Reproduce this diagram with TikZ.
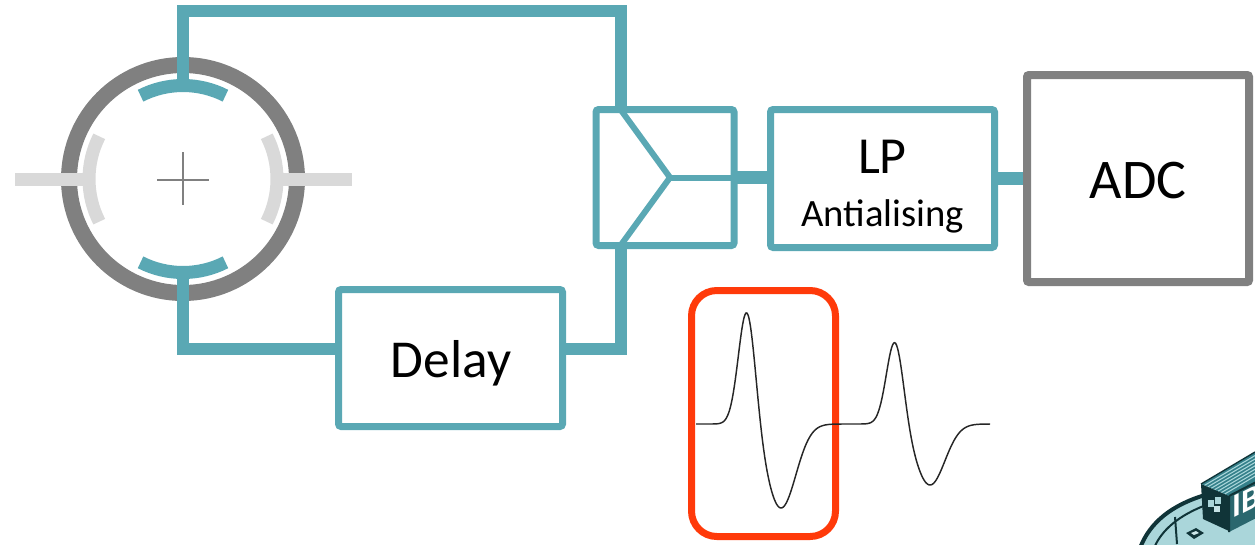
\documentclass[tikz,border=0pt]{standalone}
\usepackage{fontspec}
\setmainfont{Carlito}
\usetikzlibrary{calc}
\definecolor{sigteal}{RGB}{90,168,180}
\definecolor{ringgray}{RGB}{128,128,128}
\definecolor{padgray}{RGB}{217,217,217}
\definecolor{winred}{RGB}{255,58,10}
\definecolor{shipdark}{RGB}{16,52,56}
\definecolor{shipteal}{RGB}{52,128,138}
\definecolor{shipdeck}{RGB}{170,214,218}
\pgfdeclarelayer{background}
\pgfsetlayers{background,main}
\tikzset{
  wire/.style={draw=sigteal, line width=9pt, line join=miter},
  inner wire/.style={draw=sigteal, line width=4.5pt, line join=miter},
  blk/.style={draw=sigteal, line width=5.25pt, fill=white, rectangle,
    inner sep=0pt, outer sep=0pt, rounded corners=2pt},
  adcblk/.style={draw=ringgray, line width=6pt, fill=white, rectangle,
    inner sep=0pt, outer sep=0pt, rounded corners=1.5pt},
  electrode/.style={draw=sigteal, line width=9.75pt},
  pad/.style={draw=padgray, line width=9.75pt},
  lbl/.style={anchor=base, inner sep=0pt, text=black},
}
\begin{document}
\begin{tikzpicture}[x=0.75pt,y=-0.75pt,
  declare function={g(\t,\c,\s)=exp(-min(((\t-\c)/\s)^2,9));}]
\useasboundingbox (0,0) rectangle (1255,544);

% ---- processing chain blocks
\node[blk, minimum width=103.5pt, minimum height=102pt] (comb) at (665,177.5) {};
\node[blk, minimum width=168pt, minimum height=103.5pt] (lp) at (882.5,178.5) {};
\node[blk, minimum width=168pt, minimum height=102.75pt] (delay) at (450.5,358) {};
\node[adcblk, minimum width=166.5pt, minimum height=155.25pt] (adc) at (1138,178.5) {};

\coordinate (cin1) at ([xshift=18.4pt]comb.north west);
\coordinate (cin2) at ([xshift=18.4pt]comb.south west);
\coordinate (csum) at (670,177.5);
\coordinate (dl) at ([yshift=6.75pt]delay.west);
\coordinate (dr) at ([yshift=6.75pt]delay.east);

\begin{pgfonlayer}{background}
% ---- beam pickup: vacuum chamber ring with four electrodes
\node[draw=ringgray, line width=12pt, circle, minimum size=171pt,
  inner sep=0pt, outer sep=0pt] (pu) at (183,179) {};
\coordinate (etop) at (183,85.5);
\coordinate (ebot) at (183,272.5);
\coordinate (elft) at (89,179);
\coordinate (erht) at (277,179);

% horizontal electrodes (unused)
\draw[pad] (15,179) -- (elft);
\draw[pad] (erht) -- (352,179);
\draw[pad] ([shift={(153:94)}]pu.center) arc[start angle=153, end angle=207, radius=94];
\draw[pad] ([shift={(-27:94)}]pu.center) arc[start angle=-27, end angle=27, radius=94];

% centre cross
\draw[ringgray, line width=1.5pt] (157,179.5) -- (209,179.5) (183,152) -- (183,205);

% signal wires
\draw[wire] (etop) -- (183,11) -| (cin1);
\draw[wire] (ebot) |- (dl);
\draw[wire] (dr) -| (cin2);
\draw[wire, line width=9.75pt] (comb.east) -- (comb.east -| lp.west);
\draw[wire, line width=9.75pt] (lp.east |- adc.west) -- (adc.west);
\end{pgfonlayer}

% vertical electrodes (signal)
\draw[electrode] ([shift={(243:93.5)}]pu.center) arc[start angle=243, end angle=297, radius=93.5];
\draw[electrode] ([shift={(63:93.5)}]pu.center) arc[start angle=63, end angle=117, radius=93.5];

% hybrid combiner symbol
\draw[inner wire] (cin1) -- (csum) -- (cin2);
\draw[inner wire] (csum) -- (comb.east);

% labels
\node[lbl, font=\fontsize{39pt}{39pt}\selectfont] (lptxt) at (882.5,173) {LP};
\node[lbl, font=\fontsize{29pt}{29pt}\selectfont] (aatxt) at (882.5,226) {Antialising};
\node[lbl, font=\fontsize{42pt}{42pt}\selectfont] (adctxt) at (1138,198) {ADC};
\node[lbl, font=\fontsize{40pt}{40pt}\selectfont] (dltxt) at (451,377) {Delay};

% ---- doublet signal with sampling window
\node[draw=winred, line width=5.25pt, rounded corners=19pt, inner sep=0pt,
  minimum width=108pt, minimum height=184.5pt] (win) at (763.5,413.5) {};
\draw[black!85, line width=1.1pt, smooth]
  plot[domain=696:990, samples=300, variable=\x]
  (\x, {424 - 117*g(\x,747,12) + 84*g(\x,781,21) - 85*g(\x,895,12) + 61*g(\x,930,21)});

% ---- ship emblem in the corner
\begin{scope}
\clip (1128,440) rectangle (1255,544);
\fill[shipdeck] (1140,548) .. controls (1150,522) and (1172,505) .. (1205,495)
  -- (1262,468) -- (1262,548) -- cycle;
\draw[shipdark, line width=3pt] (1140,548) .. controls (1150,522) and (1172,505) .. (1205,495);
\draw[shipdark, line width=1.5pt] (1154,548) .. controls (1162,529) and (1180,515) .. (1206,505);
\draw[shipdark, line width=1.5pt] (1175,517) -- (1177,544);
\fill[shipdark] (1186,533) -- (1196,528) -- (1204,533) -- (1194,539) -- cycle;
\fill[shipdeck!60] (1191,533) -- (1196,531) -- (1199,533) -- (1194,535) -- cycle;
% container: top face
\fill[shipteal] (1201,484) -- (1255,452) -- (1262,452) -- (1262,481) -- (1229,496) -- cycle;
\foreach \k in {0.12,0.24,...,0.96}
  \draw[shipdeck, line width=0.8pt] ($(1201,484)!\k!(1229,496)$) -- ++(61,-36);
\draw[shipdark, line width=1pt] (1201,484) -- (1255,452);
% container: side face
\fill[shipdark] (1201,484) -- (1229,496) -- (1229,531) -- (1203,519) -- cycle;
\fill[shipdeck] (1208,500) rectangle (1214,507);
\fill[shipdeck] (1215,497) rectangle (1221,504);
\fill[shipdeck!70] (1214,506) rectangle (1220,512);
% container: end face
\fill[shipteal!80!black] (1229,496) -- (1262,479) -- (1262,515) -- (1229,532) -- cycle;
\draw[shipdark, line width=1.5pt] (1229,496) -- (1262,479) (1229,496) -- (1229,532);
\node[inner sep=0pt, text=white, font=\bfseries\fontsize{25pt}{25pt}\selectfont,
  yslant=0.5, anchor=base west] (ibtxt) at (1232,519) {IB};
\end{scope}
\end{tikzpicture}
\end{document}
